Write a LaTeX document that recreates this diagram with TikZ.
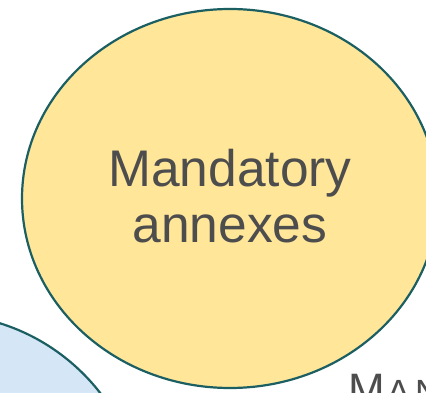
\documentclass[tikz,border=0pt]{standalone}
\usepackage{fontspec}
\setmainfont{Liberation Sans}
\usetikzlibrary{shapes.geometric}
\definecolor{edgeteal}{HTML}{1B5F62}
\definecolor{goldfill}{HTML}{FFE699}
\definecolor{bluefill}{HTML}{D5E7F7}
\definecolor{textgray}{HTML}{4D4D4D}
\tikzset{
  blob/.style={ellipse, draw=edgeteal, line width=2.2pt, inner sep=0pt, outer sep=0pt},
  label52/.style={text=textgray, inner sep=0pt, anchor=base, font=\fontsize{51.5}{55}\selectfont},
}
\begin{document}
\begin{tikzpicture}[x=1pt,y=-1pt]
\useasboundingbox (0,0) rectangle (426,393);
\clip (0,0) rectangle (426,393);
\node[blob, fill=bluefill, minimum width=408pt, minimum height=408pt] (blue) at (-61,518) {};
\node[blob, fill=goldfill, minimum width=416pt, minimum height=379pt] (gold) at (230,198.5) {};
\node[label52] (t1) at (230,187) {Mandatory};
\node[label52] (t2) at (230,242) {annexes};
\node[text=textgray, inner sep=0pt, anchor=base west] (man) at (348.4,404.5)
  {\fontsize{44}{44}\selectfont M\kern1.5pt\fontsize{35}{35}\selectfont A\kern5pt N};
\end{tikzpicture}
\end{document}
